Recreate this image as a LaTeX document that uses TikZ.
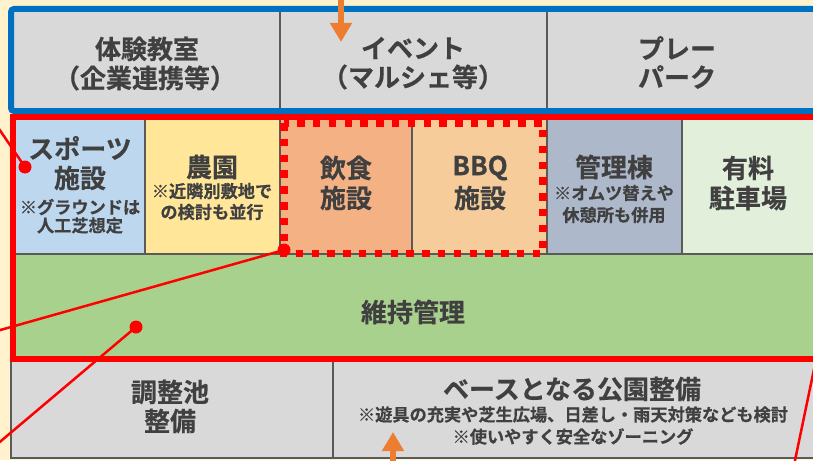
\documentclass[tikz,border=0pt]{standalone}
\usepackage{fontspec}
\newfontfamily\jp{Noto Sans CJK JP}[UprightFont=* Bold, FakeBold=0.5]
\usetikzlibrary{arrows.meta}
\definecolor{cream}{HTML}{FFF2CC}
\definecolor{cellgray}{HTML}{D9D9D9}
\definecolor{divc}{HTML}{5A5A5A}
\definecolor{txt}{HTML}{404040}
\definecolor{blueB}{HTML}{0070C0}
\definecolor{redB}{HTML}{FF0000}
\definecolor{orangeA}{HTML}{ED7D31}
\definecolor{sportc}{HTML}{BDD7EE}
\definecolor{farmc}{HTML}{FFE699}
\definecolor{foodc}{HTML}{F4B183}
\definecolor{bbqc}{HTML}{F5CC9A}
\definecolor{kanric}{HTML}{ADB9CA}
\definecolor{parkc}{HTML}{E2EFDA}
\definecolor{greenc}{HTML}{A9D18E}
\begin{document}
\begin{tikzpicture}[x=1pt,y=-1pt,
  big/.style={font=\jp\fontsize{26}{30}\selectfont, text=txt, inner sep=0pt},
  small/.style={font=\jp\fontsize{17.2}{20}\selectfont, text=txt, inner sep=0pt},
  cellbox/.style={draw=divc, line width=2.2pt, inner sep=0pt, outer sep=0pt, rectangle},
  redline/.style={draw=redB, line width=2.5pt},
  reddot/.style={circle, fill=redB, minimum size=13pt, inner sep=0pt},
  orarrow/.style={draw=orangeA, line width=6pt, -{Triangle[width=21pt,length=19pt]}},
]
\useasboundingbox (0,0) rectangle (813,460);
\begin{scope}
\clip (0,0) rectangle (813,460);
\fill[cream] (0,0) rectangle (813,460);
% top row
\node[cellbox, fill=cellgray, minimum width=269pt, minimum height=102pt] (taiken) at (145.5,60) {};
\node[cellbox, fill=cellgray, minimum width=267pt, minimum height=102pt] (event) at (413.5,60) {};
\node[cellbox, fill=cellgray, minimum width=283pt, minimum height=102pt] (play) at (688.5,60) {};
% middle row
\node[cellbox, fill=sportc, minimum width=132pt, minimum height=137pt] (sport) at (79,185.5) {};
\node[cellbox, fill=farmc, minimum width=135pt, minimum height=137pt] (farm) at (212.5,185.5) {};
\node[cellbox, fill=foodc, minimum width=132pt, minimum height=137pt] (food) at (346,185.5) {};
\node[cellbox, fill=bbqc, minimum width=135pt, minimum height=137pt] (bbq) at (479.5,185.5) {};
\node[cellbox, fill=kanric, minimum width=135pt, minimum height=137pt] (kanri) at (614.5,185.5) {};
\node[cellbox, fill=parkc, minimum width=148pt, minimum height=137pt] (parking) at (756,185.5) {};
% maintenance
\node[cellbox, fill=greenc, minimum width=817pt, minimum height=105pt] (maint) at (421.5,306.5) {};
% bottom row
\node[cellbox, fill=cellgray, minimum width=322pt, minimum height=99pt] (pond) at (172,408.5) {};
\node[cellbox, fill=cellgray, minimum width=497pt, minimum height=99pt] (base) at (581.5,408.5) {};
% frames
\draw[blueB, line width=6pt, rounded corners=3pt] (11,9) rectangle (830,111);
\draw[redB, line width=6pt] (13,117) rectangle (830,359);
\draw[redB, line width=7.5pt, dash pattern=on 7.5pt off 8.3pt] (284,123) rectangle (543,253.5);
% texts
\node[big] (t1a) at (147,49) {体験教室};
\node[big] (t1b) at (145,78) {（企業連携等）};
\node[big] (t2a) at (413,48) {イベント};
\node[big] (t2b) at (413,77) {（マルシェ等）};
\node[big] (t3a) at (677,48) {プレー};
\node[big] (t3b) at (677,77) {パーク};
\node[big] (s1) at (80,148) {スポーツ};
\node[big] (s2) at (80,178) {施設};
\node[small] (s3) at (80,207) {※グラウンドは};
\node[small] (s4) at (80,225.5) {人工芝想定};
\node[big] (f1) at (212,167) {農園};
\node[small] (f2) at (212,191) {※近隣別敷地で};
\node[small] (f3) at (212,212) {の検討も並行};
\node[big] (e1) at (346,168) {飲食};
\node[big] (e2) at (346,198) {施設};
\node[big] (b1) at (480,168) {BBQ};
\node[big] (b2) at (480,198) {施設};
\node[big] (k1) at (614,167) {管理棟};
\node[small] (k2) at (614,193) {※オムツ替えや};
\node[small] (k3) at (614,215) {休憩所も併用};
\node[big] (p1) at (748,168) {有料};
\node[big] (p2) at (748,198) {駐車場};
\node[big] (m1) at (413,312) {維持管理};
\node[big] (c1) at (170,392) {調整池};
\node[big] (c2) at (170,421) {整備};
\node[big] (g1) at (572,389) {ベースとなる公園整備};
\node[small] (g2) at (573,414.5) {※遊具の充実や芝生広場、日差し・雨天対策なども検討};
\node[small] (g3) at (573,436.5) {※使いやすく安全なゾーニング};
% red connectors
\node[reddot] (d1) at (25,167) {};
\node[reddot] (d2) at (284,250) {};
\node[reddot] (d3) at (136,327) {};
\coordinate (x1) at (-3,126);
\coordinate (x2) at (-5,331.5);
\coordinate (x3) at (-5,446);
\coordinate (x4a) at (818,350);
\coordinate (x4b) at (793,470);
\draw[redline] (x1) -- (d1.center);
\draw[redline] (x2) -- (d2.center);
\draw[redline] (x3) -- (d3.center);
\draw[redline] (x4a) -- (x4b);
% orange arrows
\coordinate (a1s) at (341,-5);
\coordinate (a1t) at (341,42);
\coordinate (a2s) at (393,470);
\coordinate (a2t) at (393,432);
\draw[orarrow] (a1s) -- (a1t);
\draw[orarrow] (a2s) -- (a2t);
\end{scope}
\end{tikzpicture}
\end{document}
